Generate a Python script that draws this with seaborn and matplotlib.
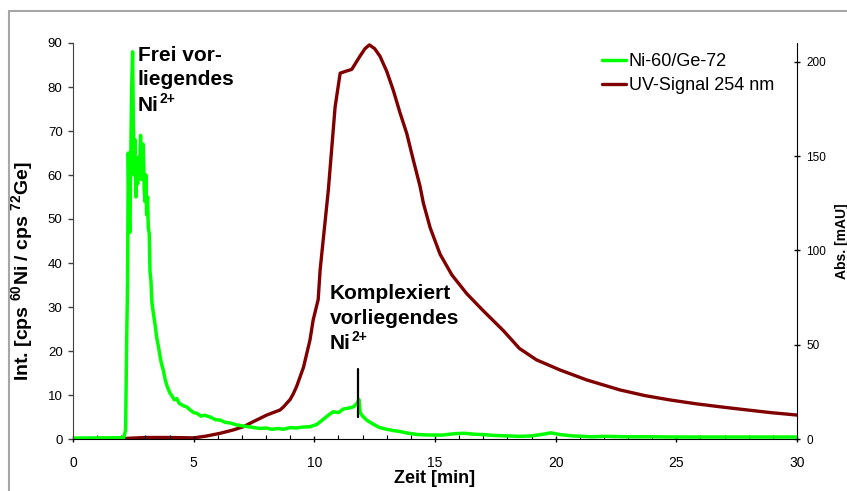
import matplotlib
matplotlib.use('Agg')
import matplotlib.pyplot as plt
import matplotlib.patches as patches
import numpy as np
import pandas as pd
import seaborn as sns

sns.set_style('ticks')
plt.rcParams['font.family'] = ['Liberation Sans', 'DejaVu Sans']
plt.rcParams['mathtext.fontset'] = 'custom'
plt.rcParams['mathtext.bf'] = 'Liberation Sans:bold'
plt.rcParams['mathtext.rm'] = 'Liberation Sans:bold'
plt.rcParams['mathtext.default'] = 'bf'
for key in ['text.color', 'axes.labelcolor', 'xtick.color', 'ytick.color']:
    plt.rcParams[key] = 'black'

# Ni-60/Ge-72 trace
ni_time = [0, 2.1, 2.18, 2.22, 2.26, 2.29, 2.33, 2.36, 2.39, 2.43, 2.47, 2.50, 2.54, 2.57, 2.61,
           2.65, 2.68, 2.71, 2.75, 2.80, 2.84, 2.88, 2.91, 2.95, 2.98, 3.02, 3.05, 3.09, 3.12, 3.16,
           3.19, 3.23, 3.27, 3.33, 3.4, 3.47, 3.54, 3.6, 3.67, 3.74, 3.82, 3.9, 4.02, 4.1, 4.2,
           4.3, 4.4, 4.5, 4.6, 4.71, 4.85, 5.0, 5.15, 5.3, 5.45, 5.68, 5.9, 6.1, 6.3, 6.55,
           6.78, 7.0, 7.25, 7.5, 7.75, 8.0, 8.25, 8.5, 8.72, 9.0, 9.25, 9.5, 9.82, 10.1, 10.4,
           10.6, 10.79, 11.0, 11.2, 11.4, 11.62, 11.75, 11.85, 11.9, 12.0, 12.17, 12.4, 12.7, 13.0, 13.3,
           13.55, 13.9, 14.3, 14.8, 15.3, 15.8, 16.2, 16.6, 17.0, 17.5, 18.0, 18.5, 19.0, 19.5, 19.8,
           20.2, 20.7, 21.5, 22.0, 23.0, 24.0, 25.0, 26.0, 27.0, 28.0, 29.0, 30.0]
ni_ratio = [0.2, 0.3, 2, 21, 35, 65, 50, 47, 62, 80, 88, 72, 60, 68, 55,
            62, 58, 64, 60, 69, 59, 63, 67, 57, 54, 60, 51, 55, 48, 46.7,
            38, 36, 31, 28.6, 26, 23, 21, 19, 17, 15.7, 13.5, 12, 10.4, 9.8, 8.9,
            9.2, 8.1, 7.8, 7.5, 7.3, 6.6, 6.0, 5.8, 5.2, 5.4, 5.0, 4.4, 4.3, 3.8, 3.6,
            3.2, 3.0, 2.8, 2.6, 2.4, 2.5, 2.2, 2.4, 2.2, 2.6, 2.5, 2.7, 2.8, 3.3, 4.6,
            5.5, 6.2, 6.0, 6.8, 7.0, 7.3, 8.0, 9.0, 6.0, 5.2, 4.3, 3.5, 2.6, 2.2, 1.9,
            1.7, 1.3, 1.0, 0.9, 0.9, 1.2, 1.3, 1.1, 1.0, 0.8, 0.7, 0.6, 0.7, 1.1, 1.4,
            1.0, 0.7, 0.5, 0.6, 0.5, 0.5, 0.45, 0.45, 0.45, 0.45, 0.45, 0.45]

# UV signal at 254 nm
uv_time = [0, 2.0, 3.0, 4.0, 5.0, 5.5, 6.09, 6.64, 7.06, 7.47, 8.03, 8.58, 8.72, 9.0, 9.13,
           9.27, 9.55, 9.82, 9.95, 10.16, 10.24, 10.58, 10.86, 11.07, 11.3, 11.55, 11.89, 12.1, 12.28, 12.5,
           12.72, 13.0, 13.27, 13.55, 13.83, 14.1, 14.38, 14.52, 14.8, 15.21, 15.7, 16.32, 17.0, 17.83, 18.5,
           19.2, 20.18, 21.29, 22.67, 23.7, 24.74, 25.8, 26.8, 27.8, 28.9, 30.0]
uv_mau = [0, 0.2, 0.8, 0.8, 0.6, 1.5, 3, 4.8, 6.5, 9.2, 12.7, 15.4, 17, 21, 24,
          28, 38, 52.5, 63, 74, 89.7, 132, 176, 194, 195, 196, 203, 207, 209, 207,
          203, 195, 185, 173, 162, 148, 134, 125, 112, 98, 87, 77, 68, 57.5, 48,
          42, 36.6, 31.3, 26, 23, 20.7, 18.7, 17.1, 15.6, 14, 12.7]

marker_time = [11.83, 11.83]
marker_value = [5.1, 15.8]

ni_df = pd.DataFrame({'Zeit': ni_time, 'Ni': ni_ratio})
uv_df = pd.DataFrame({'Zeit': uv_time, 'UV': uv_mau})

fig = plt.figure(figsize=(8.47, 4.91), dpi=100)
ax = fig.add_axes([73 / 847, 1 - 439 / 491, 724 / 847, 396 / 491])
ax2 = ax.twinx()

sns.lineplot(data=uv_df, x='Zeit', y='UV', ax=ax2, color='#800000', linewidth=2.4,
             estimator=None, label='UV-Signal 254 nm', legend=False)
sns.lineplot(data=ni_df, x='Zeit', y='Ni', ax=ax, color='#00ff00', linewidth=2.5,
             estimator=None, label='Ni-60/Ge-72', legend=False)
ax.plot(marker_time, marker_value, color='black', linewidth=1.6, zorder=5)

ax.set_zorder(ax2.get_zorder() + 1)
ax.patch.set_visible(False)

ax.set_xlim(0, 30)
ax.set_ylim(0, 90)
ax2.set_ylim(0, 210)
ax.set_xticks(range(0, 31, 5))
ax.set_xticks(range(0, 31), minor=True)
ax.set_yticks(range(0, 91, 10))
ax2.set_yticks(range(0, 201, 50))

ax.tick_params(axis='x', which='major', direction='inout', length=5, width=1, labelsize=10, pad=10)
ax.tick_params(axis='x', which='minor', direction='in', length=3, width=0.8)
ax.tick_params(axis='y', which='major', direction='out', length=3.5, width=1, labelsize=9.5, pad=4,
               color='#404040')
ax2.tick_params(axis='y', direction='inout', length=5, width=1, labelsize=8.5, pad=4)

for a in (ax, ax2):
    for side in ['top', 'bottom', 'left', 'right']:
        a.spines[side].set_visible(False)
ax.spines['bottom'].set_visible(True)
ax.spines['bottom'].set_color('black')
ax.spines['left'].set_visible(True)
ax.spines['left'].set_color('#404040')
ax2.spines['right'].set_visible(True)
ax2.spines['right'].set_color('black')

ax.set_xlabel('Zeit [min]', fontsize=13, fontweight='bold', labelpad=0)
ax.set_ylabel(r'Int. [cps $^{60}$Ni / cps $^{72}$Ge]', fontsize=14, fontweight='bold')
ax.yaxis.set_label_coords(-0.052, 0.425)
ax2.set_ylabel('Abs. [mAU]', fontsize=10, fontweight='bold')
ax2.yaxis.set_label_coords(1.052, 0.5)

# annotations: two text lines, then "Ni" and its "2+" superscript as separate texts
label_blocks = [(2.69, 89.4, 'Frei vor-\nliegendes'),
                (10.65, 35.3, 'Komplexiert\nvorliegendes')]
for bx, by, btxt in label_blocks:
    ax.text(bx, by, btxt, fontsize=15, fontweight='bold', va='top', ha='left', linespacing=1.39)
    ax.annotate('Ni', xy=(bx, by), xytext=(0, -36), textcoords='offset points',
                fontsize=15, fontweight='bold', va='top', ha='left')
    ax.annotate('2+', xy=(bx, by), xytext=(15.6, -33.5), textcoords='offset points',
                fontsize=10, fontweight='bold', va='top', ha='left')

h1, l1 = ax.get_legend_handles_labels()
h2, l2 = ax2.get_legend_handles_labels()
ax.legend(h1 + h2, l1 + l2, loc='upper left', bbox_to_anchor=(0.73, 0.975), frameon=False,
          fontsize=13, handlelength=1.35, handletextpad=0.15, labelspacing=0.4,
          borderpad=0, borderaxespad=0)

fig.patches.append(patches.Rectangle((9 / 847, -0.1), 1.2, 1.1 - 11 / 491, transform=fig.transFigure,
                                     fill=False, edgecolor='#a6a6a6', linewidth=1.5))

fig.savefig('out.png', dpi=100)
